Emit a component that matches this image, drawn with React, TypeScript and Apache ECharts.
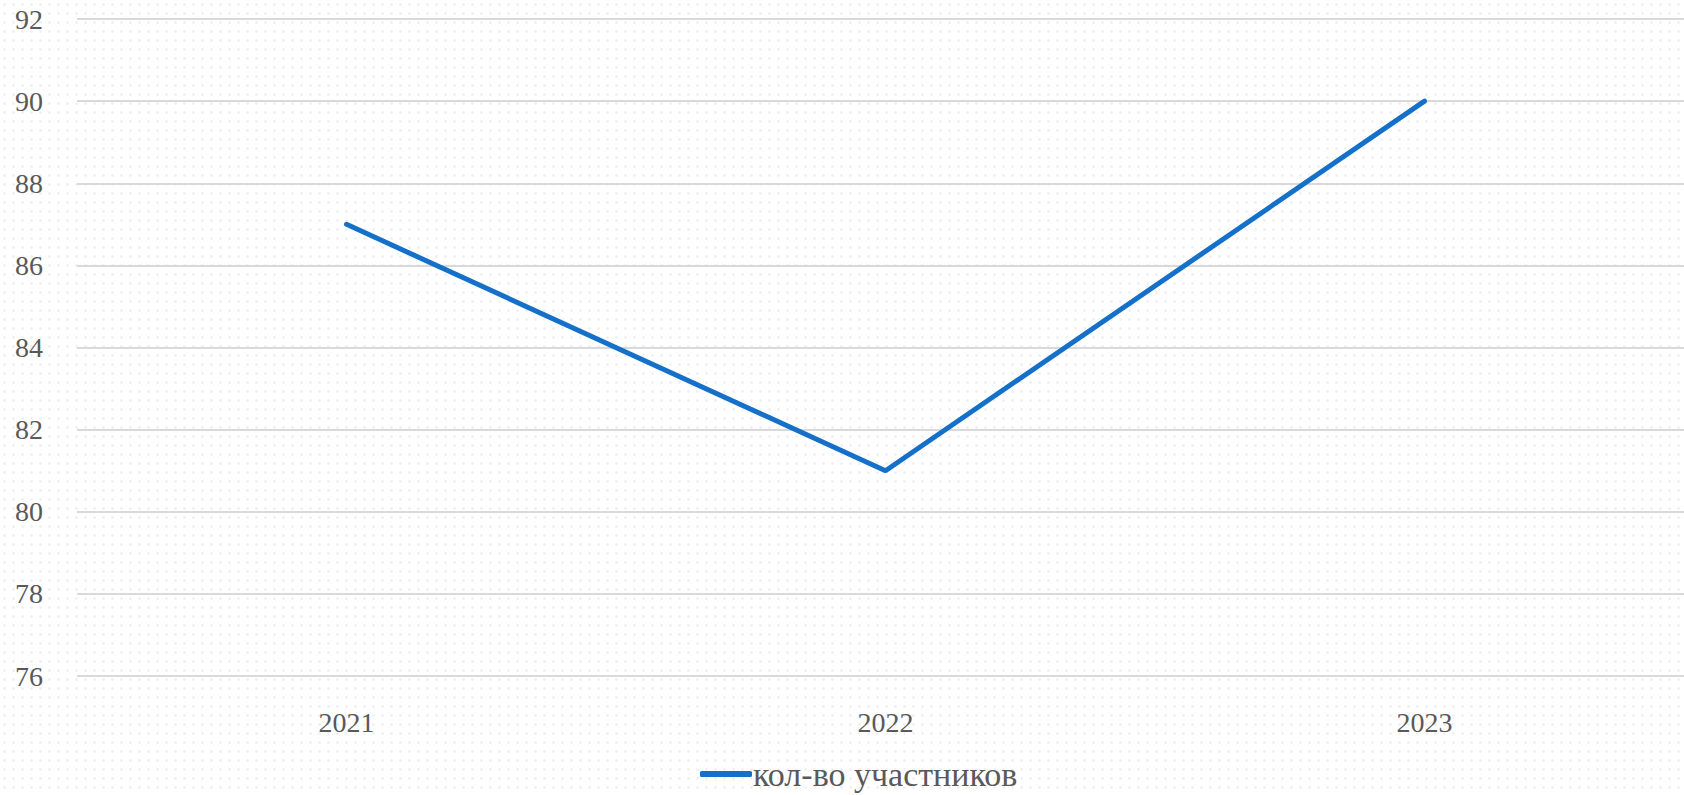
import React, { useEffect, useRef } from "react";
import * as echarts from "echarts";

const categories = ["2021", "2022", "2023"];
const seriesName = "кол-во участников";
const values = [87, 81, 90];
const yMin = 76;
const yMax = 92;
const yInterval = 2;

export default function App() {
  const ref = useRef<HTMLDivElement>(null);
  useEffect(() => {
    if (!ref.current) return;
    const chart = echarts.init(ref.current, undefined, { renderer: "svg" });
    const font = "'Liberation Serif', 'DejaVu Serif', serif";
    chart.setOption({
      animation: false,
      textStyle: { fontFamily: font },
      grid: {
        left: 77,
        width: 1617,
        top: 19,
        bottom: 119,
        containLabel: false,
        outerBoundsMode: "none",
      },
      legend: {
        bottom: -1,
        left: 695,
        icon: "roundRect",
        itemWidth: 52,
        itemHeight: 6,
        itemGap: 10,
        textStyle: { fontFamily: font, fontSize: 34, color: "#595959", padding: [0, 0, 0, -4] },
        data: [seriesName],
      },
      xAxis: {
        type: "category",
        data: categories,
        boundaryGap: true,
        axisLine: { show: false },
        axisTick: { show: false },
        axisLabel: { fontSize: 28, color: "#595959", margin: 32, fontFamily: font },
      },
      yAxis: {
        type: "value",
        min: yMin,
        max: yMax,
        interval: yInterval,
        axisLine: { show: false },
        axisTick: { show: false },
        axisLabel: { fontSize: 28, color: "#595959", align: "left", margin: 62, fontFamily: font },
        splitLine: { lineStyle: { color: "#d9d9d9", width: 2 } },
      },
      series: [
        {
          name: seriesName,
          type: "line",
          data: values,
          showSymbol: false,
          symbol: "none",
          lineStyle: { color: "#1470c8", width: 5, cap: "round" },
          itemStyle: { color: "#1470c8" },
        },
      ],
    });
    return () => chart.dispose();
  }, []);
  return (
    <div
      style={{
        position: "absolute",
        left: 0,
        top: 0,
        width: 1684,
        height: 795,
        overflow: "hidden",
        backgroundColor: "#ffffff",
        backgroundImage: "radial-gradient(circle, #f1f1f1 1.2px, transparent 1.6px)",
        backgroundSize: "9px 9px",
      }}
    >
      <div ref={ref} style={{ width: 1684, height: 795 }} />
    </div>
  );
}
